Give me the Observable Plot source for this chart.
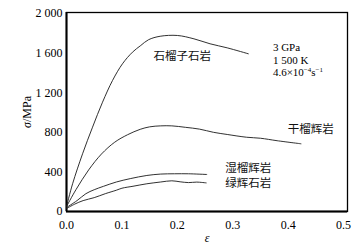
<!DOCTYPE html>
<html>
<head>
<meta charset="utf-8">
<script src="https://cdn.jsdelivr.net/npm/d3@7"></script>
<script src="https://cdn.jsdelivr.net/npm/@observablehq/plot@0.6"></script>
<style>
  html, body { margin: 0; padding: 0; background: #fff; }
  svg { display: block; }
</style>
</head>
<body>
<div id="chart"></div>
<script>
// Strain (ε) and stress (σ, MPa)
const garnetEps   = [0, 0.011, 0.029, 0.047, 0.065, 0.083, 0.101, 0.119, 0.134, 0.148, 0.169, 0.2, 0.23, 0.259, 0.29, 0.328];
const garnetSig   = [50, 280, 583, 852, 1104, 1323, 1492, 1609, 1677, 1735, 1770, 1778, 1744, 1694, 1653, 1593];

const dryEps      = [0, 0.017, 0.04, 0.063, 0.087, 0.11, 0.133, 0.15, 0.17, 0.19, 0.215, 0.24, 0.265, 0.29, 0.325, 0.35, 0.38, 0.423];
const drySig      = [50, 220, 420, 580, 700, 775, 830, 855, 865, 865, 850, 832, 800, 778, 750, 740, 715, 684];

const wetEps      = [0, 0.019, 0.035, 0.05, 0.067, 0.09, 0.115, 0.145, 0.17, 0.195, 0.22, 0.253];
const wetSig      = [40, 110, 180, 220, 255, 298, 332, 364, 378, 381, 381, 374];

const omphEps     = [0, 0.015, 0.03, 0.05, 0.07, 0.09, 0.1, 0.12, 0.145, 0.17, 0.19, 0.205, 0.22, 0.235, 0.252];
const omphSig     = [30, 75, 110, 140, 180, 215, 235, 255, 280, 298, 310, 300, 292, 297, 289];

const seriesNames = ["石榴子石岩", "干榴辉岩", "湿榴辉岩", "绿辉石岩"];
const conditions  = ["3 GPa", "1 500 K", "4.6×10^-4s^-1"];

const xTicks = [0, 0.1, 0.2, 0.3, 0.4, 0.5];
const yTicks = [0, 400, 800, 1200, 1600, 2000];

const toRows = (xs, ys) => xs.map((x, i) => ({x, y: ys[i]}));
const serif = "'Liberation Serif', 'DejaVu Serif', serif";
const cjk = "'Noto Sans CJK SC', sans-serif";
const lineOpts = {x: "x", y: "y", stroke: "#1a1a1a", strokeWidth: 0.9, curve: "catmull-rom"};

const chart = Plot.plot({
  width: 361,
  height: 247,
  marginLeft: 66,
  marginRight: 14,
  marginTop: 12,
  marginBottom: 36,
  style: {fontFamily: serif, fontSize: "12px", color: "#000", background: "#fff"},
  x: {domain: [0, 0.507]},
  y: {domain: [0, 2010]},
  marks: [
    Plot.axisX(xTicks, {tickSize: 0, tickPadding: 9, fontSize: 12, tickFormat: d3.format(".1f"),
      label: "ε", labelAnchor: "center", labelArrow: "none", labelOffset: 30}),
    Plot.axisY(yTicks, {tickSize: 0, tickPadding: 4, fontSize: 12,
      tickFormat: d => d >= 1000 ? d3.format(",")(d).replace(",", " ") : String(d),
      label: "σ/MPa", labelAnchor: "center", labelArrow: "none", labelOffset: 44}),
    Plot.frame({stroke: "#000", strokeWidth: 1.3}),
    Plot.ruleX([0], {stroke: "#000", strokeWidth: 2}),
    Plot.ruleY([0], {stroke: "#000", strokeWidth: 2}),
    Plot.line(toRows(garnetEps, garnetSig), lineOpts),
    Plot.line(toRows(dryEps, drySig), lineOpts),
    Plot.line(toRows(wetEps, wetSig), lineOpts),
    Plot.line(toRows(omphEps, omphSig), lineOpts),
    Plot.text([seriesNames[0]], {x: 0.209, y: 1566, text: d => d, fontFamily: cjk, fontSize: 11.5, fill: "#111"}),
    Plot.text([seriesNames[1]], {x: 0.4405, y: 835, text: d => d, fontFamily: cjk, fontSize: 11.5, fill: "#111"}),
    Plot.text([seriesNames[2]], {x: 0.2865, y: 437, text: d => d, textAnchor: "start", fontFamily: cjk, fontSize: 11.5, fill: "#111"}),
    Plot.text([seriesNames[3]], {x: 0.2865, y: 280, text: d => d, textAnchor: "start", fontFamily: cjk, fontSize: 11.5, fill: "#111"}),
    Plot.text(conditions, {x: 0.3724, y: (d, i) => [1655, 1528, 1401][i], text: d => d, textAnchor: "start",
      fontFamily: serif, fontSize: 11, fill: "#000"})
  ]
});

// italic axis symbols
d3.select(chart).selectAll("g[aria-label='x-axis label'] text").style("font-style", "italic");
d3.select(chart).selectAll("g[aria-label='y-axis label'] text").each(function() {
  const t = d3.select(this);
  t.text(null);
  t.append("tspan").style("font-style", "italic").text("σ");
  t.append("tspan").text("/MPa");
});
// superscripts in the strain-rate label
d3.select(chart).selectAll("text").each(function() {
  const t = d3.select(this);
  const s = t.text();
  if (!s.includes("^")) return;
  const parts = s.split(/(\^-?\d+)/).filter(p => p.length);
  t.text(null);
  parts.forEach(p => {
    if (p.startsWith("^")) {
      t.append("tspan").attr("baseline-shift", "super").attr("font-size", "7px").text(p.slice(1).replace("-", "−"));
    } else {
      t.append("tspan").text(p);
    }
  });
});

document.getElementById("chart").appendChild(chart);
</script>
</body>
</html>
